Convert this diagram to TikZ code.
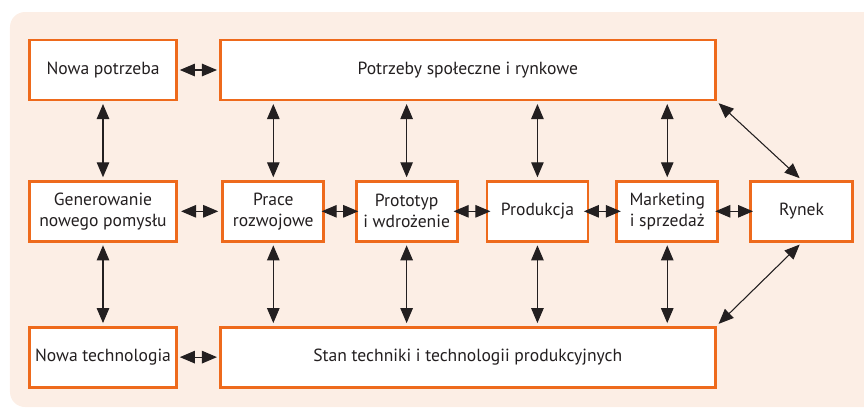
\documentclass[tikz,border=0pt]{standalone}
\usepackage{fontspec}
\setmainfont{PT Sans}
\usetikzlibrary{positioning, arrows.meta}
\definecolor{bgpeach}{HTML}{FCEEE5}
\definecolor{boxorange}{HTML}{EE6A1C}
\definecolor{inkgray}{HTML}{231F20}
\begin{document}
\begin{tikzpicture}[
  font=\fontsize{10}{12}\selectfont,
  text=inkgray,
  box/.style={draw=boxorange, line width=1.6pt, fill=white, align=center, minimum height=12mm, inner sep=1pt},
  wide/.style={box, minimum width=29.4mm},
  small/.style={box, minimum width=20.2mm},
  flow/.style={{Triangle[length=3mm, width=2.5mm]}-{Triangle[length=3mm, width=2.5mm]}, line width=0.6pt, draw=inkgray, fill=inkgray, shorten <=1.5pt, shorten >=1.5pt},
  pair/.style={flow, shorten <=#1, shorten >=#1}
]
\useasboundingbox (0,0) rectangle (17.28,-8.16);
\clip (0,0) rectangle (17.28,-8.16);
\fill[bgpeach, rounded corners=3mm] (0.2,-0.24) rectangle (17.6,-8.14);

\node[wide] (np) at (2.06,-1.40) {Nowa potrzeba};
\node[box, minimum width=99mm, right=8.2mm of np] (spol) {Potrzeby społeczne i rynkowe};
\node[wide, below=15.7mm of np] (gen) {Generowanie\\ nowego pomysłu};
\node[small, right=8.7mm of gen] (prace) {Prace\\ rozwojowe};
\node[small, right=5.9mm of prace] (proto) {Prototyp\\ i wdrożenie};
\node[small, right=5.4mm of proto] (prod) {Produkcja};
\node[small, right=5.2mm of prod] (mark) {Marketing\\ i sprzedaż};
\node[box, minimum width=20.4mm, right=6mm of mark] (rynek) {Rynek};
\node[wide, below=16.6mm of gen] (nt) {Nowa technologia};
\node[box, minimum width=99mm, right=8.2mm of nt] (stan) {Stan techniki i technologii produkcyjnych};

\draw[pair=1.1pt] (np) -- (spol);
\draw[pair=1.8pt] (gen) -- (prace);
\draw[pair=-2pt] (prace) -- (proto);
\draw[pair=-2.8pt] (proto) -- (prod);
\draw[pair=-3.1pt] (prod) -- (mark);
\draw[pair=-2.2pt] (mark) -- (rynek);
\draw[pair=1.1pt] (nt) -- (stan);
\draw[flow] (np) -- (gen);
\draw[flow] (gen) -- (nt);
\draw[flow] (prace.north) -- (prace.north |- spol.south);
\draw[flow] (proto.north) -- (proto.north |- spol.south);
\draw[flow] (prod.north) -- (prod.north |- spol.south);
\draw[flow] (mark.north) -- (mark.north |- spol.south);
\draw[flow] (prace.south) -- (prace.south |- stan.north);
\draw[flow] (proto.south) -- (proto.south |- stan.north);
\draw[flow] (prod.south) -- (prod.south |- stan.north);
\draw[flow] (mark.south) -- (mark.south |- stan.north);
\draw[flow] (spol.south east) -- (rynek.north);
\draw[flow] (rynek.south) -- (stan.north east);
\end{tikzpicture}
\end{document}
